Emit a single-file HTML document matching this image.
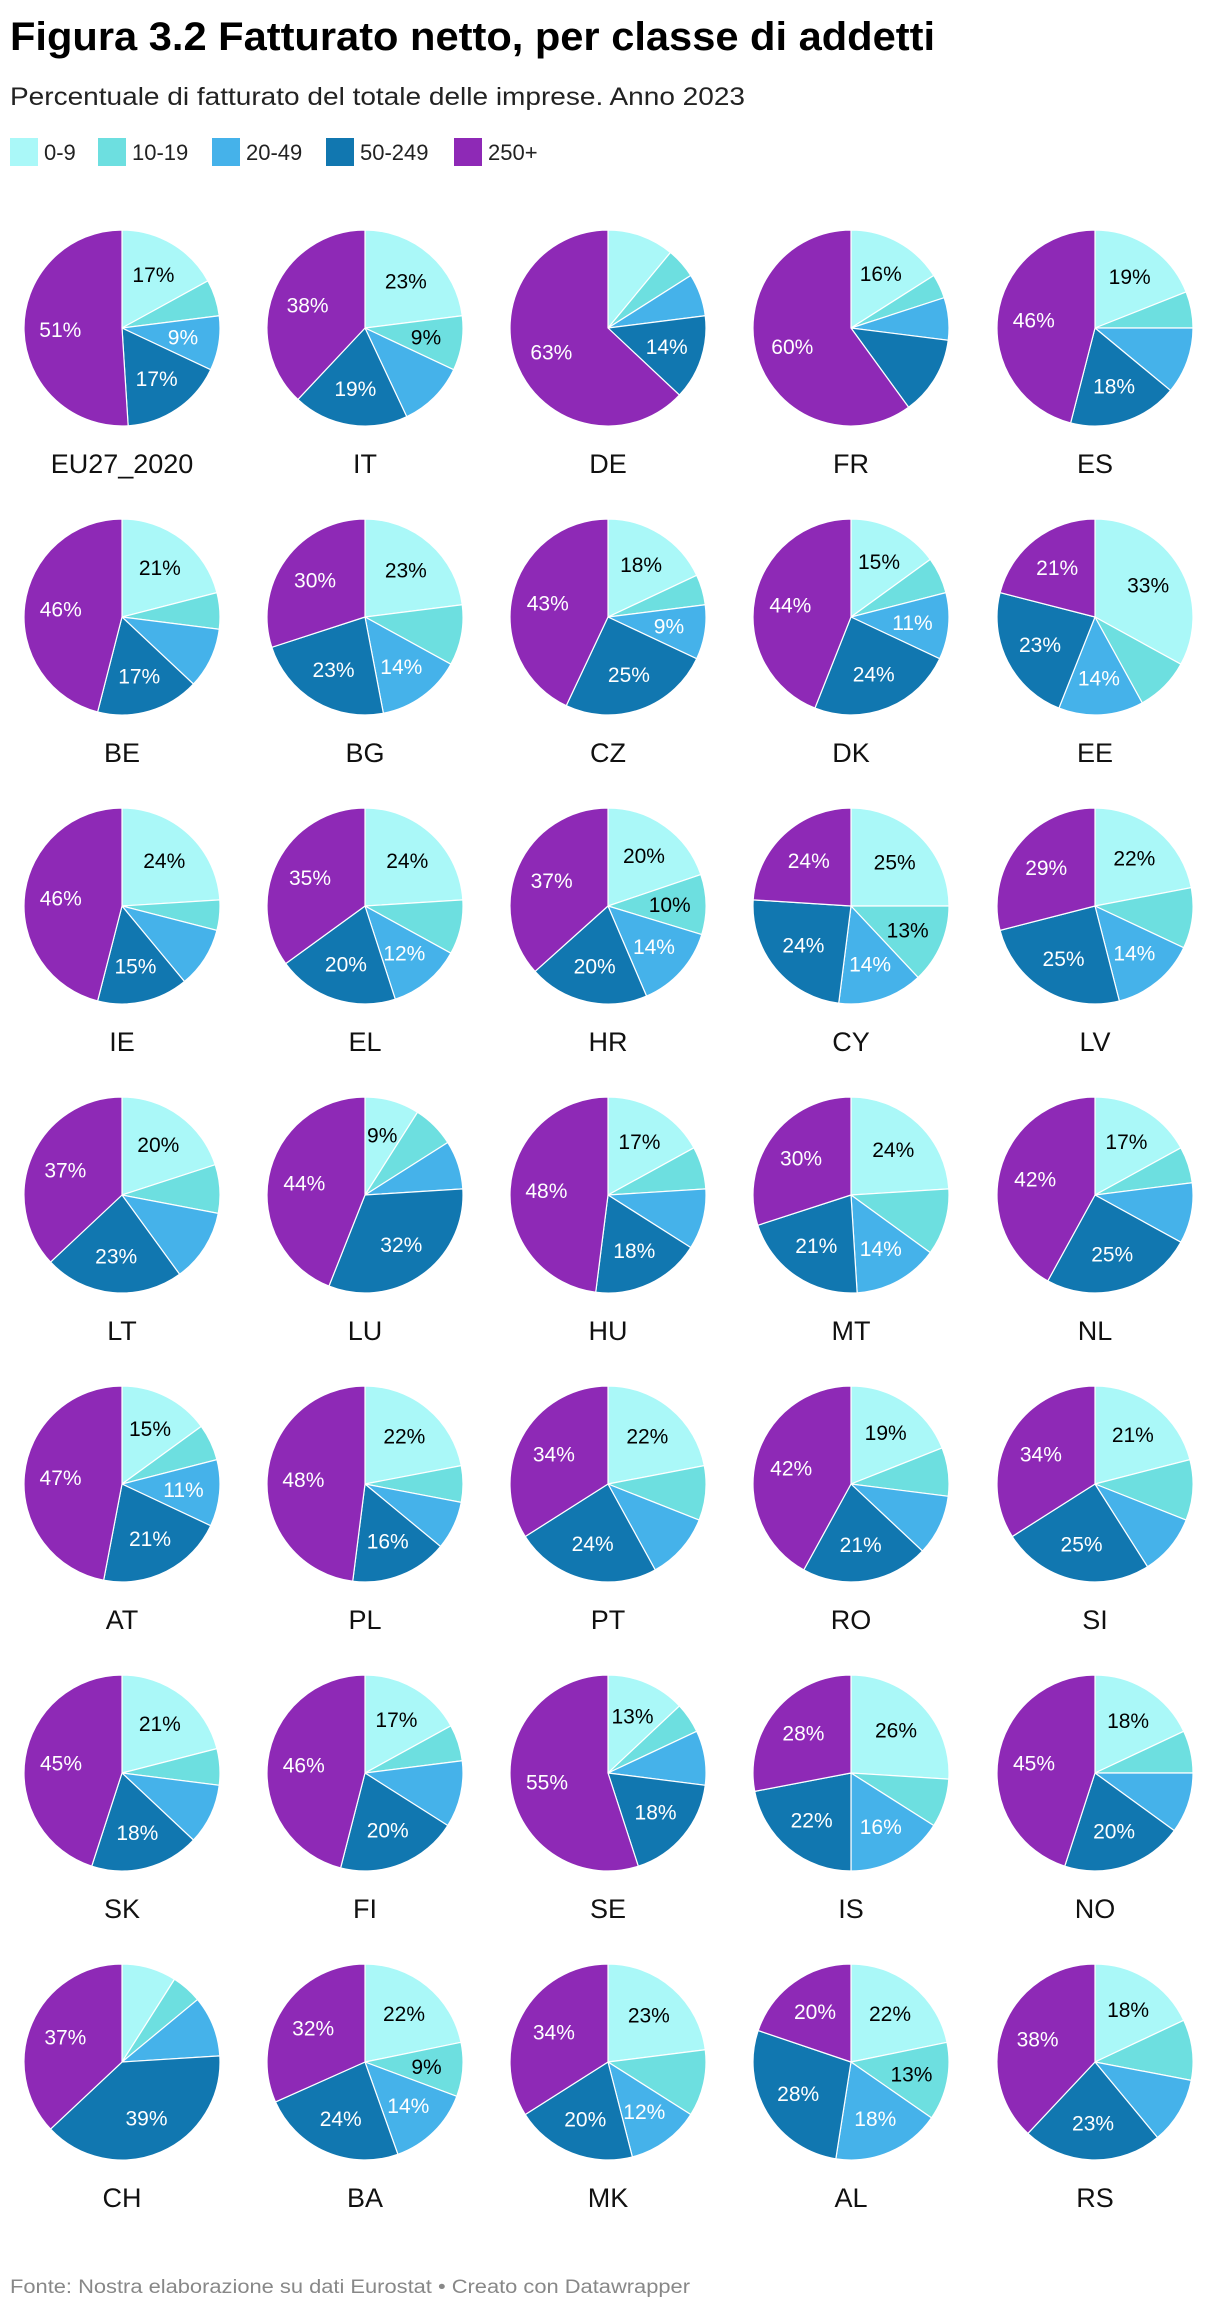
<!DOCTYPE html>
<html><head><meta charset="utf-8">
<style>
html,body{margin:0;padding:0;background:#fff;}
svg{display:block;font-family:"Liberation Sans",sans-serif;}
</style></head>
<body>
<svg id="chart" width="1220" height="2310" viewBox="0 0 1220 2310" xmlns="http://www.w3.org/2000/svg">
<text x="10" y="50" font-size="40" font-weight="bold" fill="#000" textLength="925" lengthAdjust="spacingAndGlyphs">Figura 3.2 Fatturato netto, per classe di addetti</text>
<text x="10" y="105" font-size="25" fill="#222" textLength="735" lengthAdjust="spacingAndGlyphs">Percentuale di fatturato del totale delle imprese. Anno 2023</text>
<g id="legend"></g>
<g id="pies"></g>
<text x="10" y="2293" font-size="19" fill="#888" textLength="680" lengthAdjust="spacingAndGlyphs">Fonte: Nostra elaborazione su dati Eurostat • Creato con Datawrapper</text>
</svg>
<script>
const seriesNames = ["0-9","10-19","20-49","50-249","250+"];
const seriesColors = ["#aaf8f8","#6ddfe0","#45b2ea","#1177b0","#8e29b6"];
const countries = ["EU27_2020","IT","DE","FR","ES","BE","BG","CZ","DK","EE","IE","EL","HR","CY","LV","LT","LU","HU","MT","NL","AT","PL","PT","RO","SI","SK","FI","SE","IS","NO","CH","BA","MK","AL","RS"];
const values = [
[17,6,9,17,51],[23,9,11,19,38],[11,5,7,14,63],[16,4,7,13,60],[19,6,11,18,46],
[21,6,10,17,46],[23,10,14,23,30],[18,5,9,25,43],[15,6,11,24,44],[33,9,14,23,21],
[24,5,10,15,46],[24,9,12,20,35],[20,10,14,20,37],[25,13,14,24,24],[22,10,14,25,29],
[20,8,12,23,37],[9,7,8,32,44],[17,7,10,18,48],[24,11,14,21,30],[17,6,10,25,42],
[15,6,11,21,47],[22,6,8,16,48],[22,9,11,24,34],[19,8,10,21,42],[21,10,10,25,34],
[21,6,10,18,45],[17,6,11,20,46],[13,5,9,18,55],[26,8,16,22,28],[18,7,10,20,45],
[9,5,10,39,37],[22,9,14,24,32],[23,11,12,20,34],[22,13,18,28,20],[18,10,11,23,38]];
const shown = [
[1,0,1,1,1],[1,1,0,1,1],[0,0,0,1,1],[1,0,0,0,1],[1,0,0,1,1],
[1,0,0,1,1],[1,0,1,1,1],[1,0,1,1,1],[1,0,1,1,1],[1,0,1,1,1],
[1,0,0,1,1],[1,0,1,1,1],[1,1,1,1,1],[1,1,1,1,1],[1,0,1,1,1],
[1,0,0,1,1],[1,0,0,1,1],[1,0,0,1,1],[1,0,1,1,1],[1,0,0,1,1],
[1,0,1,1,1],[1,0,0,1,1],[1,0,0,1,1],[1,0,0,1,1],[1,0,0,1,1],
[1,0,0,1,1],[1,0,0,1,1],[1,0,0,1,1],[1,0,1,1,1],[1,0,0,1,1],
[0,0,0,1,1],[1,1,1,1,1],[1,0,1,1,1],[1,1,1,1,1],[1,0,0,1,1]];

const NS="http://www.w3.org/2000/svg";
function mk(tag,attrs,parent){const e=document.createElementNS(NS,tag);for(const k in attrs)e.setAttribute(k,attrs[k]);parent.appendChild(e);return e;}

const legend=document.getElementById('legend');
const legendX=[10,98,212,326,454];
seriesNames.forEach((n,i)=>{
  const g=mk('g',{},legend);
  
  
  mk('rect',{x:legendX[i],y:138,width:28,height:28,fill:seriesColors[i]},g);
  const t=mk('text',{x:legendX[i]+34,y:160,'font-size':22,fill:'#222'},g);
  t.textContent=n;
});

const pies=document.getElementById('pies');
const colX=[122,365,608,851,1095];
const R=98;
function px(cx,a,r){return cx+r*Math.sin(a);}
function py(cy,a,r){return cy-r*Math.cos(a);}
countries.forEach((c,ci)=>{
  const cx=colX[ci%5], cy=328+Math.floor(ci/5)*289;
  const g=mk('g',{},pies);
  
  
  const vals=values[ci];
  const total=vals.reduce((a,b)=>a+b,0);
  let a0=0;
  vals.forEach((v,si)=>{
    const a1=a0+v/total*2*Math.PI;
    const large=(a1-a0)>Math.PI?1:0;
    const d=`M${cx},${cy} L${px(cx,a0,R)},${py(cy,a0,R)} A${R},${R} 0 ${large} 1 ${px(cx,a1,R)},${py(cy,a1,R)} Z`;
    const p=mk('path',{d:d,fill:seriesColors[si],stroke:'#fff','stroke-width':1.2},g);
    
    
    if(shown[ci][si]){
      const am=(a0+a1)/2;
      const t=mk('text',{x:px(cx,am,R*0.63),y:py(cy,am,R*0.63)+7,'font-size':21,'text-anchor':'middle',fill:si<2?'#000':'#fff'},g);
      
      
      t.textContent=v+'%';
    }
    a0=a1;
  });
  const lt=mk('text',{x:cx,y:cy+145,'font-size':27,'text-anchor':'middle',fill:'#111'},g);
  
  
  lt.textContent=c;
});
</script>
</body></html>
